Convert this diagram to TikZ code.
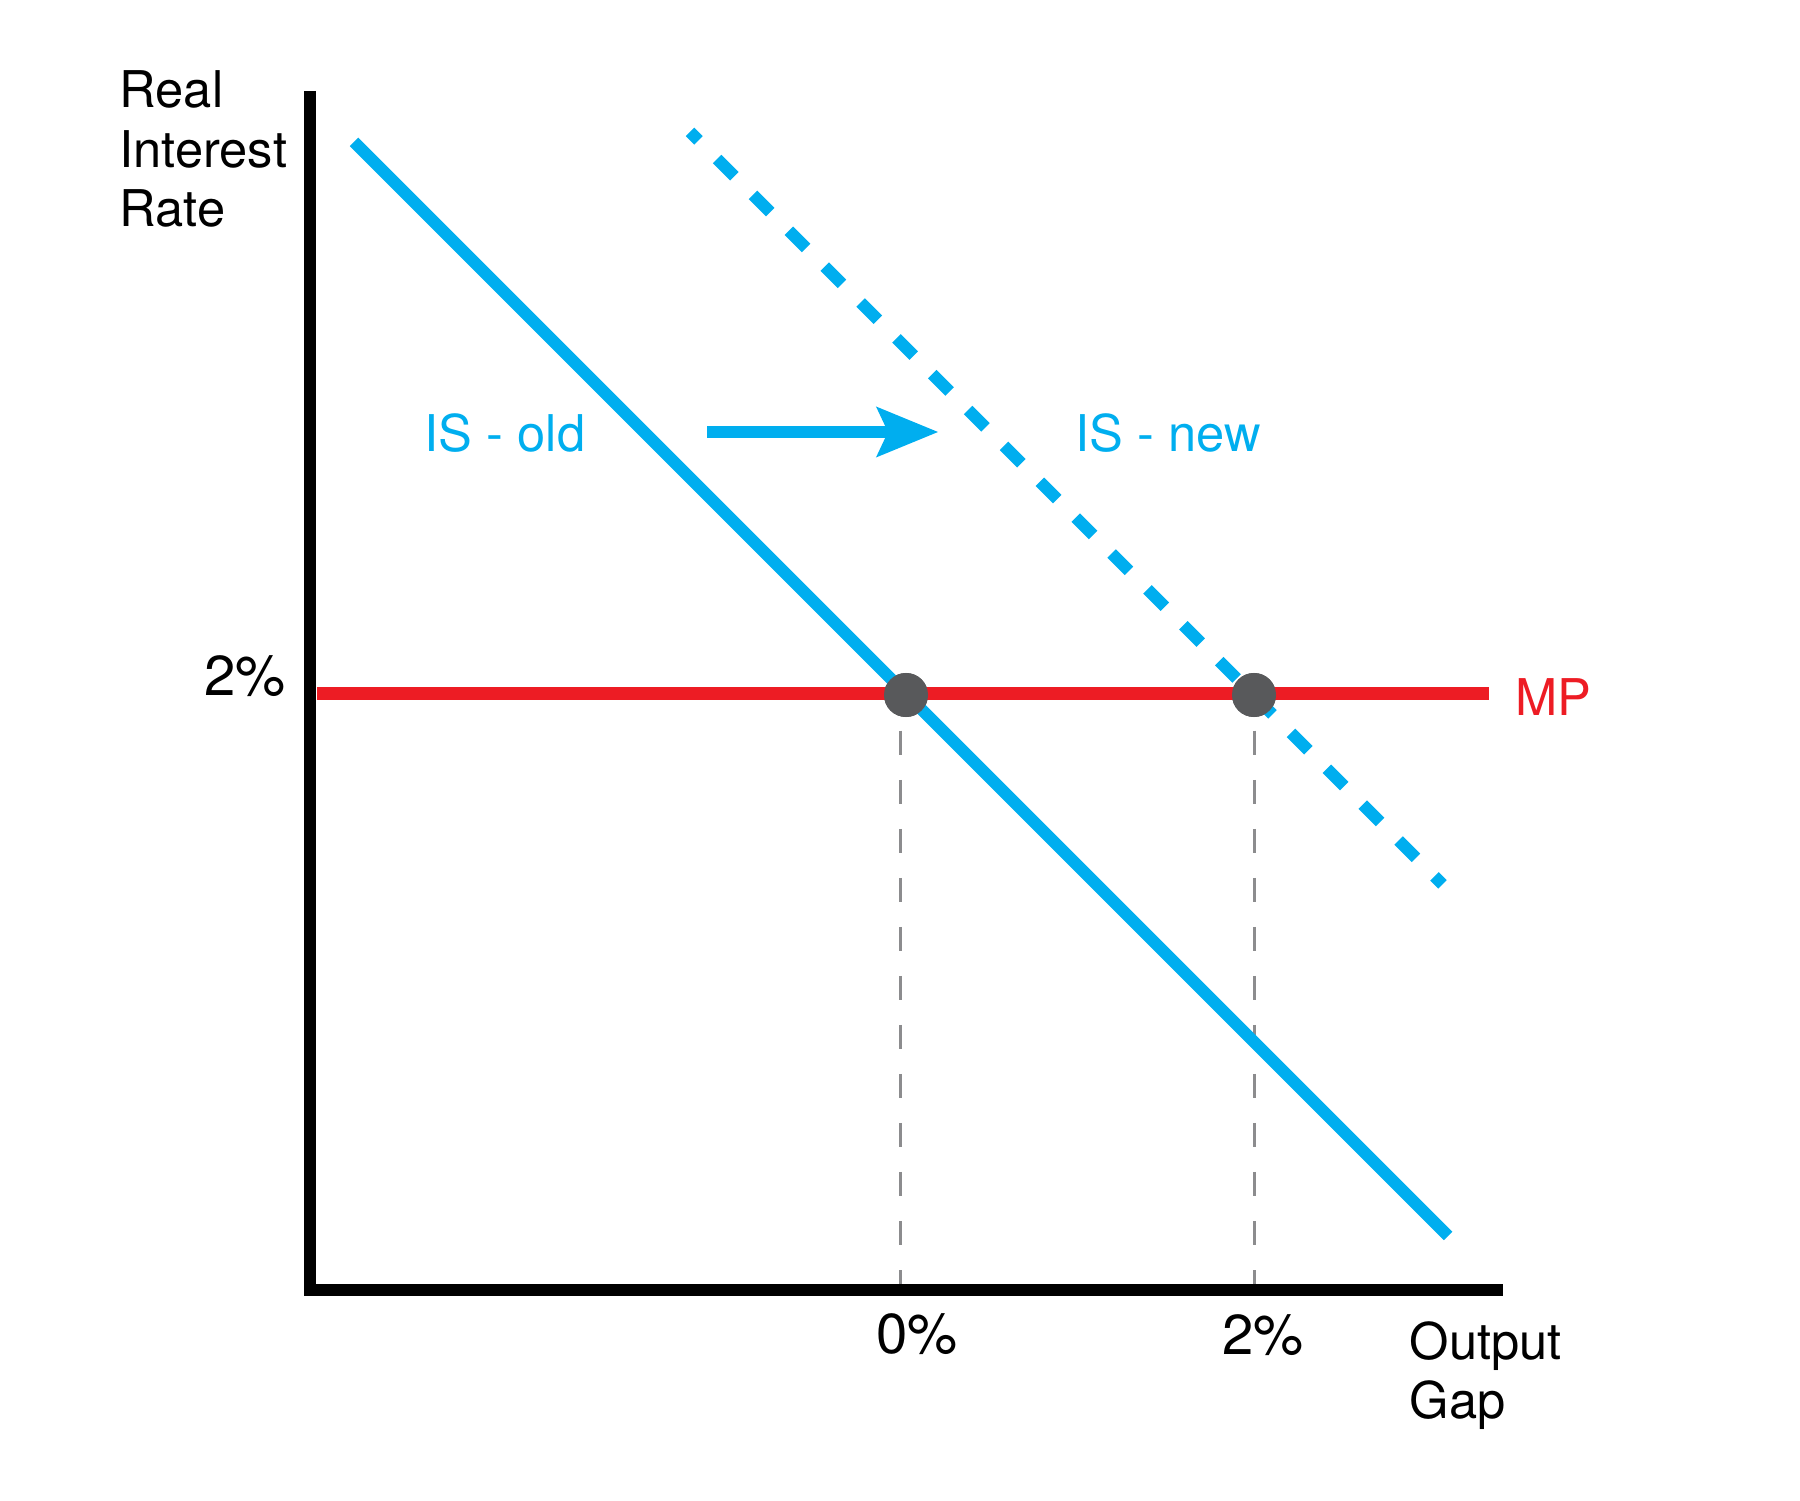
\documentclass[tikz,border=0pt]{standalone}
\usepackage{fontspec}
\setmainfont{TeX Gyre Heros}
\usepackage{tikz}
\usetikzlibrary{arrows.meta}
\definecolor{isblue}{HTML}{00AEEF}
\definecolor{mpred}{HTML}{ED1C24}
\definecolor{dotgray}{HTML}{58595B}
\definecolor{guide}{HTML}{8C8C8E}
\tikzset{
  axis/.style={line width=0.12cm, black},
  curve/.style={line width=0.12cm, isblue},
  shifted/.style={curve, dash pattern=on 0.245cm off 0.262cm, dash phase=0.125cm},
  guideline/.style={guide, line width=0.03cm, dash pattern=on 0.24cm off 0.25cm, dash phase=0.36cm},
  eq/.style={circle, fill=dotgray, minimum size=0.44cm, inner sep=0pt},
  txt/.style={font=\fontsize{14.4}{16.9}\selectfont, inner sep=0pt},
  pct/.style={font=\fontsize{16}{19}\selectfont, inner sep=0pt},
}

\begin{document}
\begin{tikzpicture}[x=0.01cm,y=-0.01cm]
  \useasboundingbox (0,0) rectangle (1800,1501);

  \coordinate (ytop) at (310,91);
  \coordinate (origin) at (310,1290);
  \coordinate (xend) at (1503,1290);
  \coordinate (tick0) at (900,1284);
  \coordinate (tick2) at (1254,1284);

  \node[eq] (dot0) at (906,695) {};
  \node[eq] (dot2) at (1254,695) {};

  % guides down to the output gap axis
  \draw[guideline] (dot0.south -| tick0) -- (tick0);
  \draw[guideline] (dot2.south) -- (tick2);

  % IS curves and MP rule
  \coordinate (isoldA) at (354,142);
  \coordinate (isoldB) at (1448,1236);
  \coordinate (isnewA) at (690,132);
  \coordinate (isnewB) at (1442.4,884.4);
  \coordinate (mpL) at (317,693.5);
  \coordinate (mpR) at (1489,693.5);
  \draw[curve] (isoldA) -- (isoldB);
  \draw[shifted] (isnewA) -- (isnewB);
  \draw[mpred, line width=0.125cm] (mpL) -- (mpR);

  \coordinate (shiftA) at (707,432);
  \coordinate (shiftB) at (938,432);
  \draw[isblue, line width=0.127cm, -{Stealth[length=0.62cm, width=0.51cm, inset=0.12cm, line width=0pt]}] (shiftA) -- (shiftB);

  \draw[axis] (ytop) -- (origin) -- (xend);

  \node[eq] at (dot0) {};
  \node[eq] at (dot2) {};

  \node[txt, anchor=north west, align=left] (ylabel) at (119,70) {Real\\Interest\\Rate};
  \node[txt, anchor=north west, align=left] (xlabel) at (1409,1321) {Output\\Gap};
  \node[pct] (rate2) at (245,676) {2\%};
  \node[pct] (gap0) at (917,1334) {0\%};
  \node[pct] (gap2) at (1263,1335) {2\%};
  \node[txt, text=isblue] (isold) at (505,433) {IS - old};
  \node[txt, text=isblue] (isnew) at (1168,433) {IS - new};
  \node[txt, text=mpred, anchor=west] (mp) at (1515,697) {MP};
\end{tikzpicture}
\end{document}
